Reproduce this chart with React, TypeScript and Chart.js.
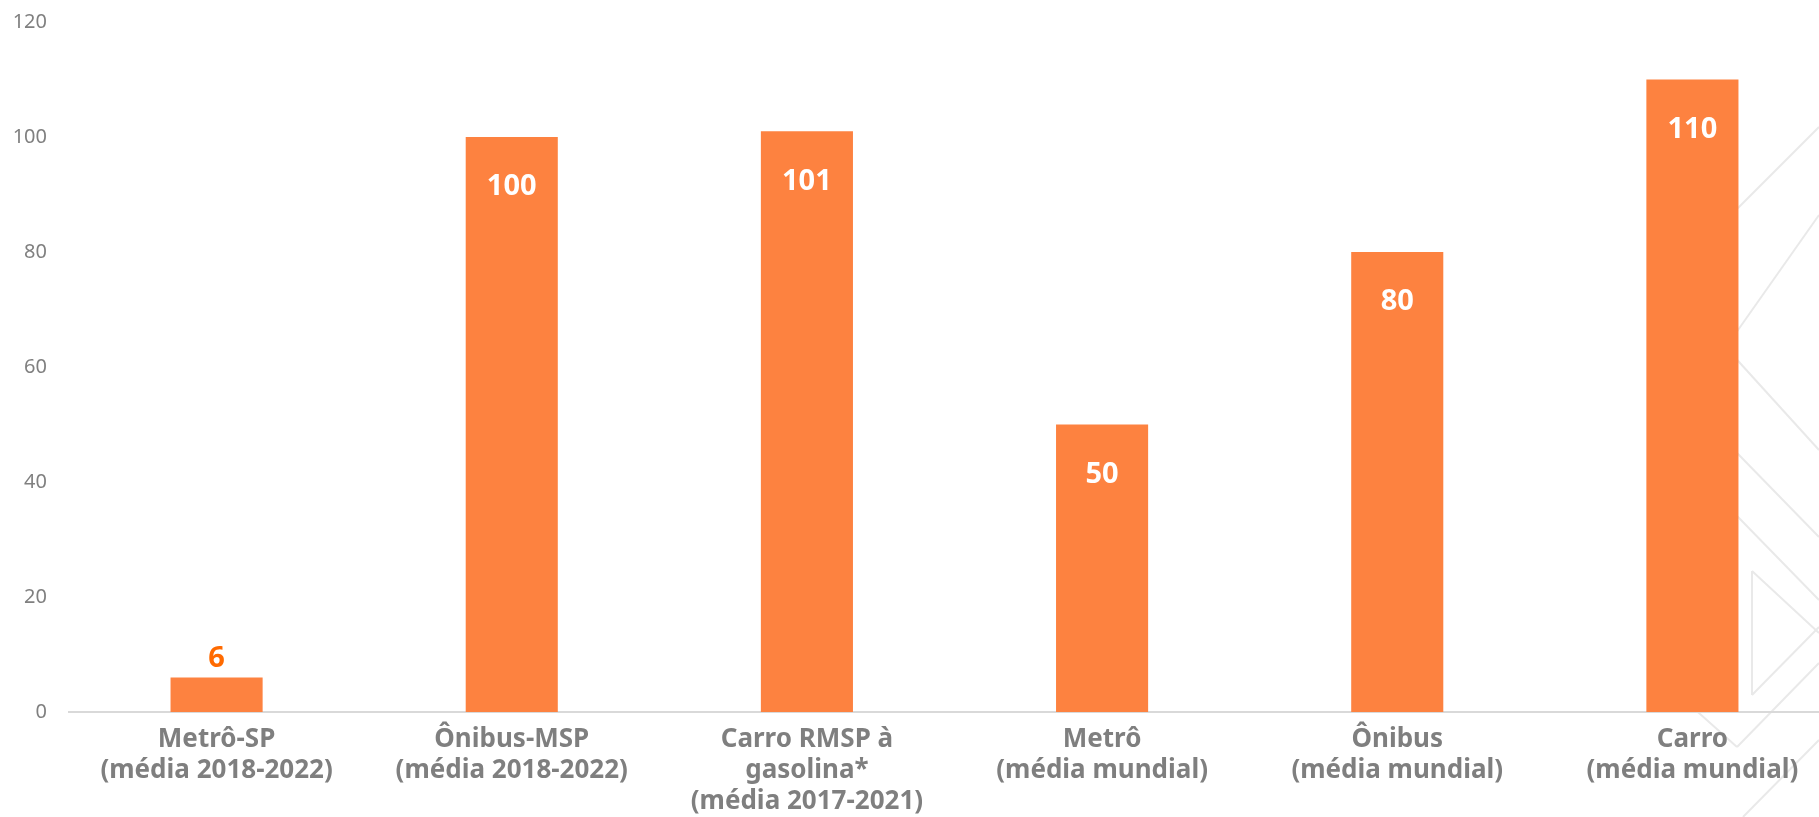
import React, { useEffect, useRef } from "react";
import { Chart, registerables } from "chart.js";

Chart.register(...registerables);

const categories: string[][] = [
  ["Metrô-SP", "(média 2018-2022)"],
  ["Ônibus-MSP", "(média 2018-2022)"],
  ["Carro RMSP à", "gasolina*", "(média 2017-2021)"],
  ["Metrô", "(média mundial)"],
  ["Ônibus", "(média mundial)"],
  ["Carro", "(média mundial)"],
];
const values: number[] = [6, 100, 101, 50, 80, 110];
const yTicks: number[] = [0, 20, 40, 60, 80, 100, 120];

const BAR = "#FD8240";
const FONT = "'Noto Sans', 'Open Sans', sans-serif";

const decorPlugin = {
  id: "decor",
  beforeDraw(chart: any) {
    const ctx = chart.ctx;
    ctx.save();
    ctx.strokeStyle = "#e9e9e9";
    ctx.lineWidth = 2;
    const segs: number[][] = [
      [1700, 246, 1819, 127],
      [1700, 384, 1819, 215],
      [1700, 319, 1819, 450],
      [1700, 415, 1819, 537],
      [1700, 478, 1819, 600],
      [1752, 571, 1752, 695],
      [1752, 571, 1819, 633],
      [1752, 695, 1819, 627],
      [1819, 663, 1737, 747],
      [1737, 747, 1690, 705],
      [1819, 740, 1743, 817],
    ];
    for (const s of segs) {
      ctx.beginPath();
      ctx.moveTo(s[0], s[1]);
      ctx.lineTo(s[2], s[3]);
      ctx.stroke();
    }
    ctx.restore();
  },
};

const labelPlugin = {
  id: "valueLabels",
  afterDatasetsDraw(chart: any) {
    const ctx = chart.ctx;
    const meta = chart.getDatasetMeta(0);
    ctx.save();
    ctx.font = `bold 29px ${FONT}`;
    ctx.textAlign = "center";
    ctx.textBaseline = "middle";
    meta.data.forEach((bar: any, i: number) => {
      const v = values[i];
      if (v < 20) {
        ctx.fillStyle = "#FF6A00";
        ctx.fillText(String(v), bar.x, bar.y - 19);
      } else {
        ctx.fillStyle = "#FFFFFF";
        ctx.fillText(String(v), bar.x, bar.y + 50);
      }
    });
    ctx.restore();
  },
};

export default function App() {
  const ref = useRef<HTMLCanvasElement | null>(null);
  useEffect(() => {
    if (!ref.current) return;
    const chart = new Chart(ref.current, {
      type: "bar",
      data: {
        labels: categories,
        datasets: [
          {
            data: values,
            backgroundColor: BAR,
            borderWidth: 0,
            barPercentage: 0.312,
            categoryPercentage: 1,
          },
        ],
      },
      options: {
        animation: false,
        responsive: true,
        maintainAspectRatio: false,
        layout: { padding: { top: 22, left: 0, right: 0, bottom: 0 } },
        plugins: { legend: { display: false }, tooltip: { enabled: false } },
        scales: {
          x: {
            grid: { display: false, drawTicks: false },
            border: { display: true, color: "#d9d9d9", width: 2 },
            ticks: {
              color: "#7f7f7f",
              font: { family: FONT, size: 26, weight: "bold", lineHeight: 1.2 },
              padding: 12,
              maxRotation: 0,
              autoSkip: false,
            },
            afterFit(scale: any) {
              scale.height = 105;
              scale.paddingLeft = 0;
              scale.paddingRight = 0;
            },
          },
          y: {
            min: 0,
            max: 120,
            afterBuildTicks(scale: any) {
              scale.ticks = yTicks.map((v) => ({ value: v }));
            },
            grid: { display: false, drawTicks: false },
            border: { display: false },
            ticks: {
              color: "#808080",
              font: { family: FONT, size: 20 },
              padding: 22,
            },
            afterFit(scale: any) {
              scale.width = 69;
              scale.paddingTop = 0;
              scale.paddingBottom = 0;
            },
          },
        },
      },
      plugins: [decorPlugin, labelPlugin],
    });
    return () => chart.destroy();
  }, []);
  return (
    <div
      style={{
        position: "fixed",
        left: 0,
        top: 0,
        width: 1819,
        height: 817,
        overflow: "hidden",
        background: "#ffffff",
      }}
    >
      <div style={{ position: "relative", width: 1840, height: 817 }}>
        <canvas ref={ref} />
      </div>
    </div>
  );
}
